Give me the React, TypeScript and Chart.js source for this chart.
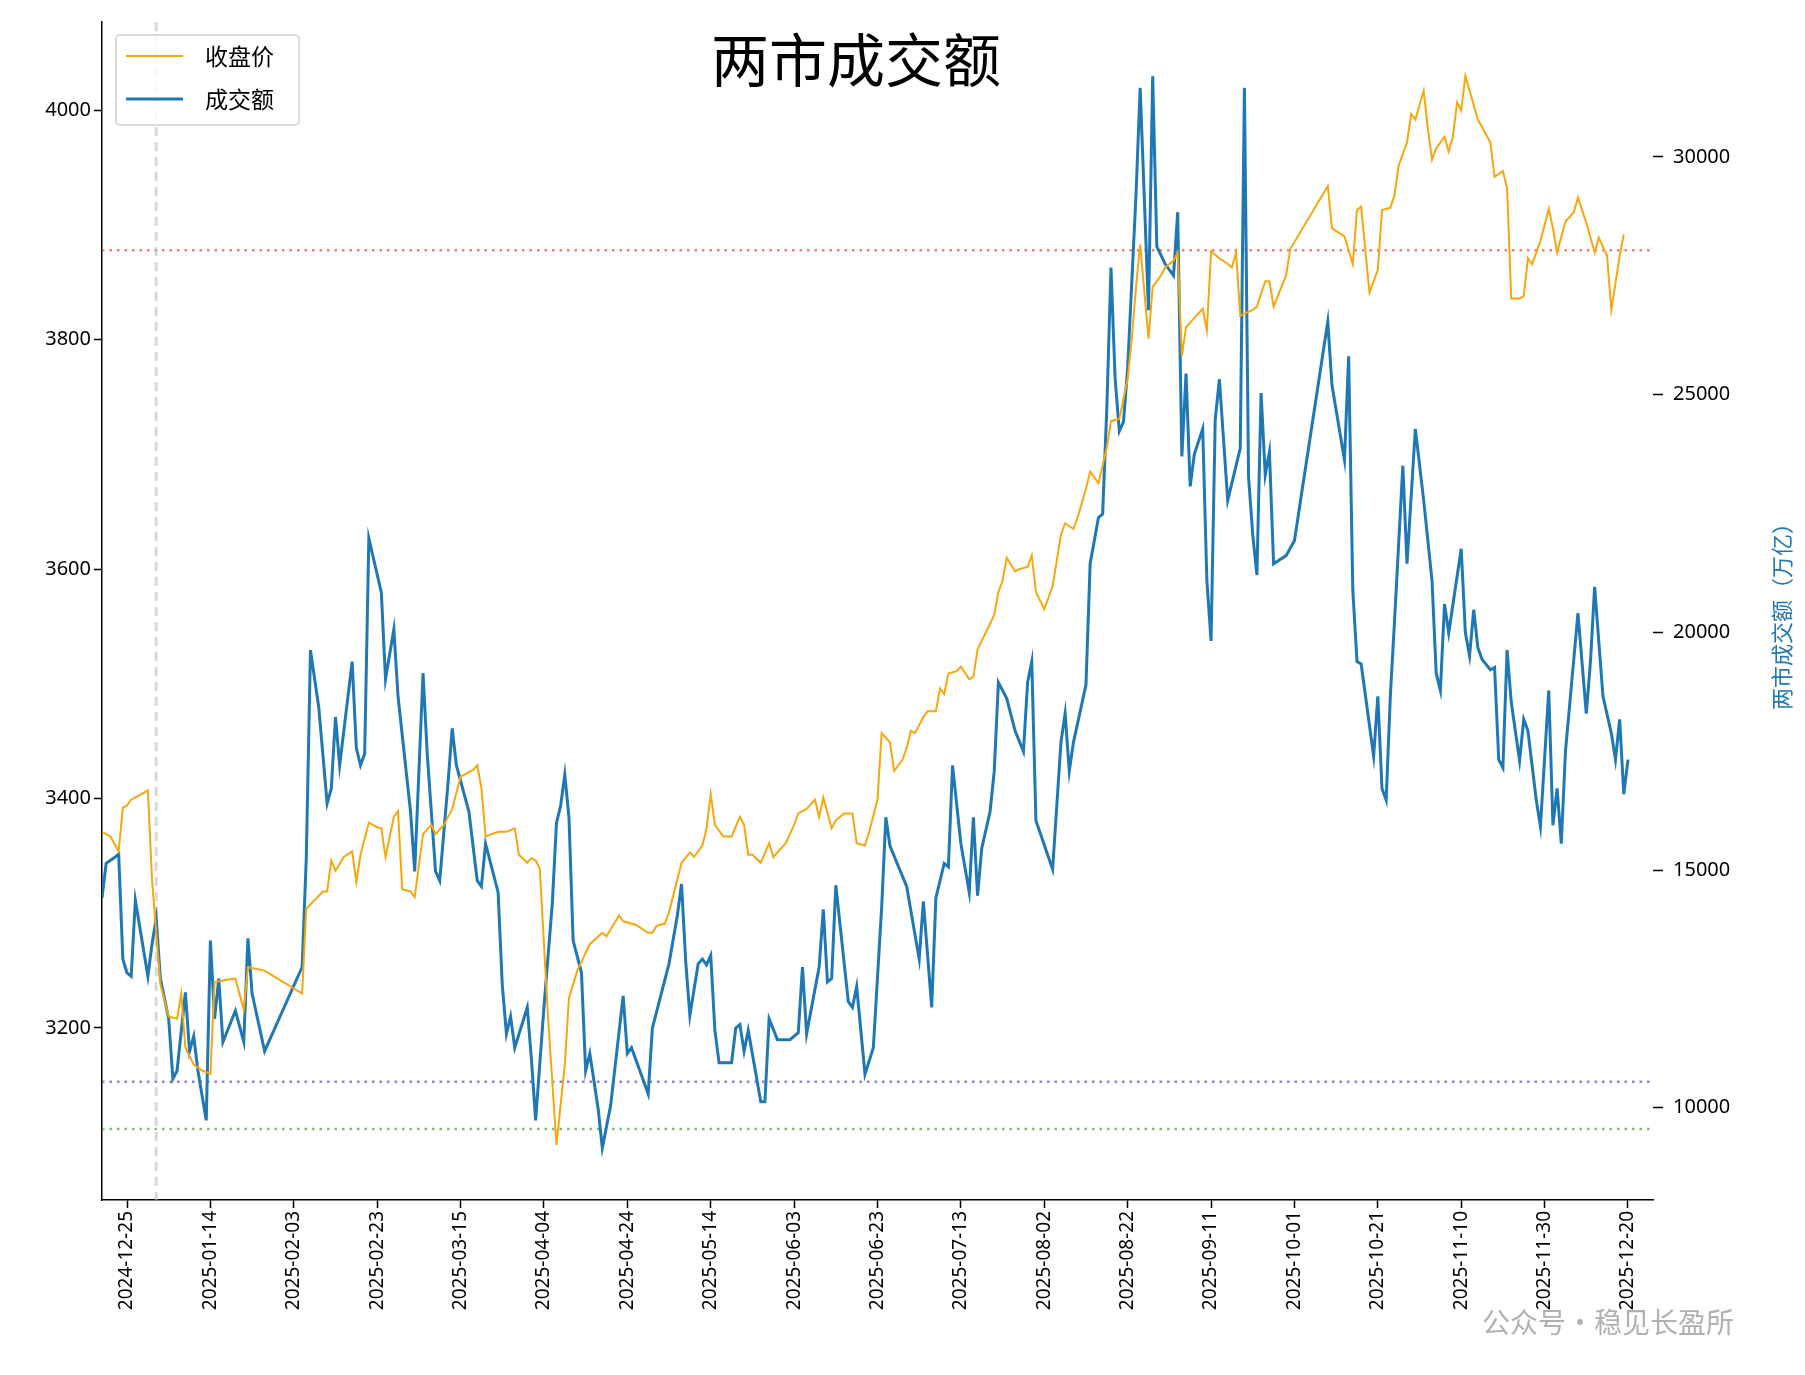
import { useEffect, useRef } from "react";
import { Chart, registerables } from "chart.js";

Chart.register(...registerables);

// x values are days counted from 2024-12-25
const START = Date.UTC(2024, 11, 25);

const closeDays = [-6, -4, -2, -1, 0, 1, 4, 5, 6, 8, 10, 12, 13, 14, 16, 18, 20, 21, 24, 26, 28, 29, 33, 42, 43, 47, 48, 49, 50, 52, 54, 55, 56, 58, 60, 61, 62, 64, 65, 66, 68, 69, 71, 73, 74, 76, 78, 80, 83, 84, 85, 86, 89, 91, 93, 94, 96, 97, 98, 99, 101, 103, 105, 106, 108, 111, 114, 115, 118, 119, 122, 125, 126, 127, 129, 130, 133, 135, 136, 138, 139, 140, 141, 143, 145, 147, 148, 149, 150, 152, 154, 155, 158, 160, 161, 163, 165, 166, 167, 169, 170, 172, 174, 175, 177, 178, 180, 181, 183, 184, 186, 187, 188, 189, 191, 192, 194, 195, 196, 197, 199, 200, 202, 203, 204, 206, 208, 209, 210, 211, 213, 214, 216, 217, 218, 220, 222, 224, 225, 227, 228, 230, 231, 233, 235, 236, 238, 240, 241, 242, 243, 245, 246, 248, 249, 251, 252, 253, 254, 256, 258, 259, 260, 262, 264, 265, 266, 267, 270, 271, 273, 274, 275, 278, 279, 288, 289, 292, 294, 295, 296, 298, 300, 301, 303, 304, 305, 307, 308, 309, 311, 312, 313, 314, 316, 317, 318, 319, 320, 321, 324, 327, 328, 330, 331, 332, 334, 335, 336, 337, 339, 341, 342, 343, 345, 347, 348, 350, 352, 353, 355, 356, 358, 359];
const closeValues = [3371, 3367, 3354, 3392, 3394, 3399, 3405, 3407, 3329, 3238, 3210, 3208, 3230, 3183, 3168, 3163, 3160, 3240, 3242, 3243, 3216, 3253, 3250, 3230, 3304, 3319, 3319, 3346, 3337, 3349, 3354, 3327, 3351, 3379, 3375, 3374, 3349, 3384, 3389, 3321, 3319, 3314, 3369, 3377, 3369, 3377, 3391, 3419, 3425, 3429, 3409, 3367, 3371, 3371, 3374, 3351, 3344, 3348, 3346, 3339, 3208, 3098, 3168, 3226, 3250, 3273, 3283, 3280, 3298, 3293, 3290, 3283, 3283, 3289, 3291, 3301, 3344, 3353, 3349, 3359, 3374, 3404, 3377, 3367, 3367, 3384, 3377, 3351, 3351, 3344, 3361, 3349, 3361, 3377, 3387, 3391, 3399, 3384, 3401, 3374, 3381, 3387, 3387, 3361, 3359, 3371, 3399, 3457, 3449, 3424, 3434, 3444, 3459, 3457, 3471, 3476, 3476, 3496, 3491, 3509, 3511, 3515, 3504, 3506, 3530, 3545, 3560, 3580, 3590, 3610, 3598, 3600, 3602, 3612, 3580, 3565, 3585, 3630, 3640, 3635, 3645, 3670, 3685, 3675, 3706, 3729, 3731, 3766, 3801, 3846, 3883, 3801, 3846, 3856, 3863, 3869, 3876, 3786, 3811, 3819, 3827, 3808, 3877, 3871, 3866, 3863, 3876, 3821, 3826, 3829, 3851, 3851, 3829, 3856, 3879, 3934, 3897, 3890, 3866, 3913, 3916, 3841, 3861, 3913, 3915, 3926, 3952, 3972, 3997, 3992, 4017, 3984, 3957, 3967, 3977, 3964, 3977, 4007, 4000, 4030, 3992, 3972, 3942, 3947, 3932, 3836, 3836, 3838, 3871, 3866, 3886, 3914, 3897, 3876, 3903, 3911, 3924, 3902, 3876, 3889, 3873, 3826, 3873, 3892];

const volumeDays = [-6, -5, -3, -2, -1, 0, 1, 2, 5, 6, 7, 8, 10, 11, 12, 14, 15, 16, 17, 19, 20, 21, 22, 23, 26, 28, 29, 30, 33, 42, 43, 44, 46, 48, 49, 50, 51, 54, 55, 56, 57, 58, 61, 62, 64, 65, 68, 69, 71, 72, 74, 75, 77, 78, 79, 82, 84, 85, 86, 89, 90, 91, 92, 93, 96, 97, 98, 100, 102, 103, 104, 105, 106, 107, 109, 110, 111, 113, 114, 116, 119, 120, 121, 124, 125, 126, 130, 132, 133, 134, 135, 137, 138, 139, 140, 141, 142, 145, 146, 147, 148, 149, 152, 153, 154, 156, 159, 161, 162, 163, 166, 167, 168, 169, 170, 173, 174, 175, 177, 179, 181, 182, 183, 187, 190, 191, 193, 194, 196, 197, 198, 200, 202, 203, 204, 205, 207, 208, 209, 211, 213, 215, 216, 217, 218, 222, 224, 225, 226, 227, 230, 231, 233, 234, 235, 236, 237, 238, 239, 240, 242, 243, 245, 246, 247, 249, 251, 252, 253, 254, 255, 256, 258, 259, 260, 261, 262, 264, 266, 267, 268, 269, 270, 271, 272, 273, 274, 275, 278, 280, 288, 289, 292, 293, 294, 295, 296, 299, 300, 301, 302, 303, 304, 306, 307, 309, 311, 313, 314, 315, 316, 317, 320, 321, 322, 323, 324, 325, 327, 328, 329, 330, 331, 332, 334, 335, 336, 338, 339, 341, 342, 343, 344, 345, 348, 350, 351, 352, 354, 356, 357, 358, 359, 360];
const volumeValues = [14414, 15141, 15262, 15335, 13128, 12838, 12766, 14366, 12766, 13444, 13977, 12717, 11869, 10608, 10778, 12426, 11190, 11505, 10778, 9735, 13517, 11869, 12717, 11384, 12039, 11384, 13565, 12402, 11190, 12960, 15262, 19625, 18413, 16401, 16716, 18219, 17201, 19383, 17565, 17201, 17443, 21977, 20837, 19019, 20061, 18655, 16231, 14971, 19140, 17443, 14971, 14777, 16837, 17977, 17201, 16231, 14777, 14656, 15553, 14535, 12596, 11554, 11917, 11263, 12111, 11020, 9735, 12111, 14293, 15990, 16352, 17007, 16110, 13517, 12838, 10778, 11141, 9978, 9154, 10051, 12354, 11141, 11263, 10536, 10293, 11675, 13032, 14050, 14705, 13080, 11942, 13032, 13128, 13007, 13201, 11627, 10948, 10948, 11675, 11748, 11190, 11627, 10124, 10124, 11869, 11432, 11432, 11578, 12960, 11554, 12960, 14172, 12645, 12717, 14681, 12233, 12111, 12548, 10705, 11263, 14220, 16110, 15505, 14656, 13128, 14341, 12111, 14414, 15141, 15068, 17201, 15553, 14535, 16110, 14462, 15456, 16231, 17080, 18946, 18607, 17928, 17492, 18946, 19383, 16037, 15019, 17686, 18292, 17080, 17686, 18898, 21443, 22413, 22486, 24716, 27673, 25322, 24231, 24426, 25564, 29200, 31454, 26776, 31697, 28109, 27746, 27503, 28836, 23698, 25443, 23068, 23747, 24280, 21080, 19819, 24474, 25322, 22776, 23504, 23868, 31454, 23262, 22050, 21201, 25031, 23310, 23795, 21443, 21613, 21928, 26534, 25201, 23625, 25806, 20886, 19383, 19334, 17395, 18655, 16716, 16474, 18655, 20231, 23504, 21443, 24280, 22776, 21080, 19140, 18777, 20595, 19989, 21758, 19989, 19504, 20474, 19674, 19431, 19213, 19262, 17322, 17152, 19625, 18534, 17298, 18170, 17928, 16474, 15917, 18777, 15941, 16716, 15553, 17492, 20401, 18292, 19383, 20958, 18655, 17880, 17322, 18170, 16595, 17322];

const xTickDays = [0, 20, 40, 60, 80, 100, 120, 140, 160, 180, 200, 220, 240, 260, 280, 300, 320, 340, 360];
const leftTicks = [3200, 3400, 3600, 3800, 4000];
const rightTicks = [10000, 15000, 20000, 25000, 30000];

const refLines = [
  { value: 3878, color: "rgba(240,80,80,0.75)" },
  { value: 3153, color: "rgba(100,100,220,0.8)" },
  { value: 3112, color: "rgba(90,170,90,0.8)" },
];
const markerDay = 7;

const dayLabel = (d: number) => new Date(START + d * 86400000).toISOString().slice(0, 10);

const decorPlugin = {
  id: "decor",
  beforeDatasetsDraw(chart: any) {
    const { ctx, chartArea: a, scales } = chart;
    ctx.save();
    ctx.lineWidth = 2.5;
    ctx.setLineDash([2.5, 5]);
    for (const r of refLines) {
      const y = scales.y.getPixelForValue(r.value);
      ctx.strokeStyle = r.color;
      ctx.beginPath();
      ctx.moveTo(a.left, y);
      ctx.lineTo(a.right, y);
      ctx.stroke();
    }
    const x = scales.x.getPixelForValue(markerDay);
    ctx.strokeStyle = "rgba(190,190,190,0.6)";
    ctx.lineWidth = 3;
    ctx.setLineDash([9, 6]);
    ctx.beginPath();
    ctx.moveTo(x, a.top);
    ctx.lineTo(x, a.bottom);
    ctx.stroke();
    ctx.restore();
  },
  afterDraw(chart: any) {
    const { ctx, chartArea: a } = chart;
    ctx.save();
    ctx.fillStyle = "#000";
    ctx.textAlign = "center";
    ctx.textBaseline = "middle";
    ctx.font = "58px 'Noto Sans CJK SC'";
    ctx.fillText("两市成交额", 856, 60);
    // right axis title, reading bottom to top
    ctx.save();
    ctx.translate(1782, (a.top + a.bottom) / 2);
    ctx.rotate(-Math.PI / 2);
    ctx.fillStyle = "#1f77b4";
    ctx.font = "22px 'Noto Sans CJK SC'";
    ctx.fillText("两市成交额（万亿）", 0, 0);
    ctx.restore();
    // legend
    ctx.fillStyle = "rgba(255,255,255,0.85)";
    ctx.strokeStyle = "#d0d0d0";
    ctx.lineWidth = 1.5;
    ctx.setLineDash([]);
    ctx.beginPath();
    ctx.roundRect(116, 35, 183, 90, 4);
    ctx.fill();
    ctx.stroke();
    ctx.lineWidth = 2;
    ctx.strokeStyle = "#f5a70f";
    ctx.beginPath();
    ctx.moveTo(126, 56);
    ctx.lineTo(183, 56);
    ctx.stroke();
    ctx.lineWidth = 3;
    ctx.strokeStyle = "#1f77b4";
    ctx.beginPath();
    ctx.moveTo(126, 99);
    ctx.lineTo(183, 99);
    ctx.stroke();
    ctx.fillStyle = "#000";
    ctx.textAlign = "left";
    ctx.font = "23px 'Noto Sans CJK SC'";
    ctx.fillText("收盘价", 205, 56);
    ctx.fillText("成交额", 205, 99);
    // watermark
    ctx.fillStyle = "rgba(150,150,150,0.75)";
    ctx.font = "28px 'Noto Sans CJK SC'";
    ctx.fillText("公众号•稳见长盈所", 1482, 1322);
    ctx.restore();
  },
};

export default function App() {
  const canvasRef = useRef<HTMLCanvasElement>(null);

  useEffect(() => {
    document.body.style.margin = "0";
    if (!canvasRef.current) return;
    const chart = new Chart(canvasRef.current, {
      type: "line",
      data: {
        datasets: [
          {
            label: "收盘价",
            data: closeDays.map((d, i) => ({ x: d, y: closeValues[i] })),
            borderColor: "#f5a70f",
            borderWidth: 2,
            pointRadius: 0,
            yAxisID: "y",
          },
          {
            label: "成交额",
            data: volumeDays.map((d, i) => ({ x: d, y: volumeValues[i] })),
            borderColor: "#1f77b4",
            borderWidth: 3,
            pointRadius: 0,
            yAxisID: "y1",
          },
        ],
      },
      options: {
        animation: false,
        responsive: false,
        devicePixelRatio: 1,
        layout: { padding: { top: 17, left: 0, right: 0, bottom: 0 } },
        plugins: { legend: { display: false }, tooltip: { enabled: false } },
        scales: {
          x: {
            type: "linear",
            min: -6,
            max: 366,
            afterBuildTicks: (s: any) => { s.ticks = xTickDays.map((v) => ({ value: v })); },
            afterFit: (s: any) => { s.height = 175; },
            grid: { drawOnChartArea: false, color: "#000", tickLength: 8, tickWidth: 1.5 },
            border: { color: "#000", width: 1.5 },
            ticks: {
              color: "#000",
              font: { family: "'Noto Sans'", size: 19 },
              maxRotation: 90,
              minRotation: 90,
              autoSkip: false,
              callback: (v: any) => dayLabel(Number(v)),
            },
          },
          y: {
            position: "left",
            min: 3050,
            max: 4077,
            afterBuildTicks: (s: any) => { s.ticks = leftTicks.map((v) => ({ value: v })); },
            afterFit: (s: any) => { s.width = 102; },
            grid: { drawOnChartArea: false, color: "#000", tickLength: 8, tickWidth: 1.5 },
            border: { color: "#000", width: 1.5 },
            ticks: { color: "#000", font: { family: "'Noto Sans'", size: 20 }, callback: (v: any) => String(v) },
          },
          y1: {
            position: "right",
            min: 8060,
            max: 32836,
            afterBuildTicks: (s: any) => { s.ticks = rightTicks.map((v) => ({ value: v })); },
            afterFit: (s: any) => { s.width = 152; },
            grid: { drawOnChartArea: false, color: "#000", tickLength: 10, tickWidth: 1.5, offset: false },
            border: { display: false },
            ticks: { color: "#000", padding: 10, font: { family: "'Noto Sans'", size: 20 }, callback: (v: any) => String(v) },
          },
        },
      },
      plugins: [decorPlugin],
    });
    return () => chart.destroy();
  }, []);

  return <canvas ref={canvasRef} width={1805} height={1375} style={{ display: "block" }} />;
}
